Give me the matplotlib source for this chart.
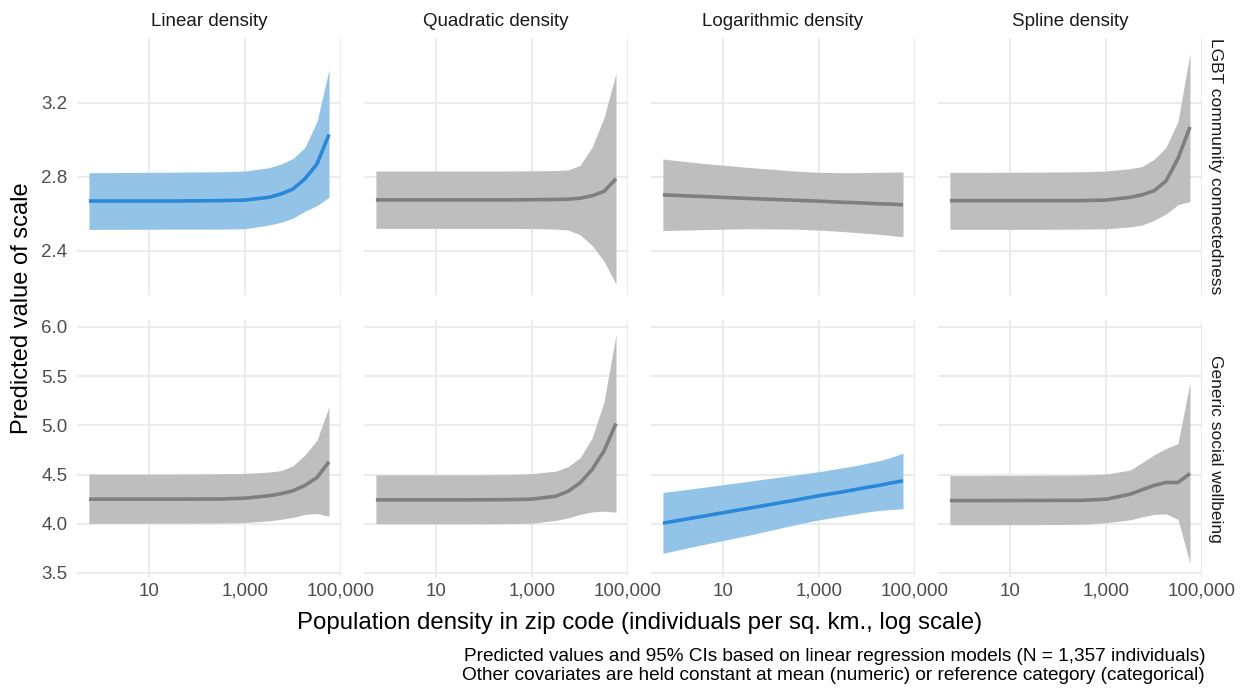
import numpy as np
import matplotlib
matplotlib.use("Agg")
import matplotlib.pyplot as plt

plt.rcParams['font.family'] = ['Liberation Sans', 'DejaVu Sans']

# population density values where predictions were read (individuals per sq. km)
density = [0.56, 3.2, 32, 316, 1000, 3162, 5623, 10000, 17783, 31623, 56234]

models = ['Linear density', 'Quadratic density', 'Logarithmic density', 'Spline density']
outcomes = ['LGBT community connectedness', 'Generic social wellbeing']

# LGBT community connectedness
lgbt_fit = {
    'Linear density':      [2.670, 2.670, 2.670, 2.672, 2.675, 2.690, 2.708, 2.735, 2.790, 2.870, 3.030],
    'Quadratic density':   [2.676, 2.676, 2.676, 2.676, 2.677, 2.678, 2.680, 2.685, 2.698, 2.722, 2.790],
    'Logarithmic density': [2.703, 2.695, 2.684, 2.674, 2.669, 2.663, 2.661, 2.658, 2.655, 2.653, 2.650],
    'Spline density':      [2.672, 2.672, 2.672, 2.672, 2.675, 2.690, 2.703, 2.725, 2.778, 2.900, 3.070],
}
lgbt_hi = {
    'Linear density':      [2.823, 2.824, 2.826, 2.828, 2.832, 2.850, 2.870, 2.900, 2.960, 3.100, 3.380],
    'Quadratic density':   [2.832, 2.832, 2.832, 2.832, 2.833, 2.835, 2.838, 2.862, 2.960, 3.120, 3.360],
    'Logarithmic density': [2.897, 2.875, 2.852, 2.832, 2.825, 2.823, 2.823, 2.824, 2.825, 2.826, 2.827],
    'Spline density':      [2.825, 2.825, 2.826, 2.828, 2.832, 2.845, 2.856, 2.895, 2.960, 3.100, 3.470],
}
lgbt_lo = {
    'Linear density':      [2.517, 2.517, 2.518, 2.518, 2.520, 2.540, 2.555, 2.577, 2.615, 2.645, 2.690],
    'Quadratic density':   [2.522, 2.522, 2.522, 2.522, 2.521, 2.518, 2.513, 2.488, 2.430, 2.345, 2.220],
    'Logarithmic density': [2.510, 2.515, 2.520, 2.518, 2.513, 2.505, 2.500, 2.495, 2.490, 2.483, 2.477],
    'Spline density':      [2.517, 2.517, 2.517, 2.518, 2.520, 2.530, 2.540, 2.565, 2.600, 2.650, 2.667],
}

# Generic social wellbeing
gen_fit = {
    'Linear density':      [4.250, 4.250, 4.250, 4.252, 4.260, 4.285, 4.305, 4.335, 4.390, 4.470, 4.630],
    'Quadratic density':   [4.243, 4.243, 4.243, 4.245, 4.250, 4.280, 4.330, 4.415, 4.550, 4.740, 5.020],
    'Logarithmic density': [4.007, 4.070, 4.155, 4.240, 4.285, 4.325, 4.347, 4.370, 4.390, 4.415, 4.436],
    'Spline density':      [4.236, 4.236, 4.237, 4.238, 4.250, 4.300, 4.345, 4.390, 4.420, 4.420, 4.510],
}
gen_hi = {
    'Linear density':      [4.504, 4.504, 4.505, 4.508, 4.512, 4.525, 4.540, 4.590, 4.700, 4.850, 5.190],
    'Quadratic density':   [4.497, 4.497, 4.497, 4.500, 4.510, 4.535, 4.580, 4.670, 4.870, 5.240, 5.920],
    'Logarithmic density': [4.318, 4.365, 4.430, 4.495, 4.530, 4.570, 4.590, 4.615, 4.640, 4.675, 4.717],
    'Spline density':      [4.490, 4.490, 4.492, 4.495, 4.505, 4.545, 4.620, 4.700, 4.765, 4.815, 5.440],
}
gen_lo = {
    'Linear density':      [4.005, 4.005, 4.006, 4.008, 4.012, 4.030, 4.045, 4.065, 4.095, 4.105, 4.075],
    'Quadratic density':   [4.000, 4.000, 4.000, 4.002, 4.006, 4.035, 4.060, 4.095, 4.120, 4.128, 4.118],
    'Logarithmic density': [3.700, 3.780, 3.880, 3.990, 4.040, 4.080, 4.100, 4.120, 4.135, 4.145, 4.152],
    'Spline density':      [3.990, 3.990, 3.991, 3.995, 4.010, 4.040, 4.070, 4.095, 4.100, 4.045, 3.600],
}

# which model was selected per outcome (highlighted in blue)
best = {'LGBT community connectedness': 'Linear density',
        'Generic social wellbeing': 'Logarithmic density'}

row_data = [(lgbt_fit, lgbt_hi, lgbt_lo), (gen_fit, gen_hi, gen_lo)]
row_ylim = [(2.162, 3.551), (3.459, 6.071)]
row_yticks = [[2.4, 2.8, 3.2], [3.5, 4.0, 4.5, 5.0, 5.5, 6.0]]
x_ticks = [10, 1000, 100000]
x_labels = ['10', '1,000', '100,000']

W, H = 1247, 690
fig = plt.figure(figsize=(W / 100, H / 100), dpi=100)

col_left = [77, 364, 651, 938]
row_top = [38, 320]
pw, ph = 264, 257

tick_col = '#4D4D4D'
grid_col = '#EBEBEB'

for r, outcome in enumerate(outcomes):
    fit, hi, lo = row_data[r]
    for c, model in enumerate(models):
        ax = fig.add_axes([col_left[c] / W, 1 - (row_top[r] + ph) / H, pw / W, ph / H])
        if model == best[outcome]:
            line_col, fill_col = '#2B88D8', '#93C4E8'
        else:
            line_col, fill_col = '#7F7F7F', '#BEBEBE'
        ax.fill_between(density, lo[model], hi[model], color=fill_col, lw=0, zorder=2)
        ax.plot(density, fit[model], color=line_col, lw=2.6, zorder=3, solid_capstyle='butt')

        ax.set_xscale('log')
        ax.set_xlim(10 ** -0.5, 10 ** 5)
        ax.set_ylim(*row_ylim[r])
        ax.set_xticks(x_ticks)
        ax.set_yticks(row_yticks[r])
        ax.minorticks_off()
        ax.grid(True, color=grid_col, lw=1.5, zorder=0)
        ax.set_axisbelow(True)
        for s in ax.spines.values():
            s.set_visible(False)
        ax.tick_params(length=0, labelsize=13.5, labelcolor=tick_col)
        ax.tick_params(axis='y', pad=7)
        ax.tick_params(axis='x', pad=4)

        if r == 1:
            ax.set_xticklabels(x_labels)
        else:
            ax.set_xticklabels([])
        if c == 0:
            ax.set_yticklabels(['%.1f' % v for v in row_yticks[r]])
        else:
            ax.set_yticklabels([])

        if r == 0:
            fig.text((col_left[c] + pw / 2) / W, 1 - 22 / H, model, ha='center', va='center',
                     fontsize=13.5, color='#1A1A1A')
        if c == 3:
            fig.text(1216 / W, 1 - (row_top[r] + ph / 2) / H, outcome, ha='center', va='center',
                     rotation=-90, fontsize=12.5, color='#1A1A1A')

fig.text(22 / W, 1 - 308 / H, 'Predicted value of scale', rotation=90, ha='center', va='center',
         fontsize=17)
fig.text(640 / W, 1 - 623 / H, 'Population density in zip code (individuals per sq. km., log scale)',
         ha='center', va='center', fontsize=17.3)
fig.text(1205 / W, 1 - 666 / H,
         'Predicted values and 95% CIs based on linear regression models (N = 1,357 individuals)\n'
         'Other covariates are held constant at mean (numeric) or reference category (categorical)',
         ha='right', va='center', fontsize=13.7, linespacing=1.2)

fig.savefig('out.png', dpi=100)
